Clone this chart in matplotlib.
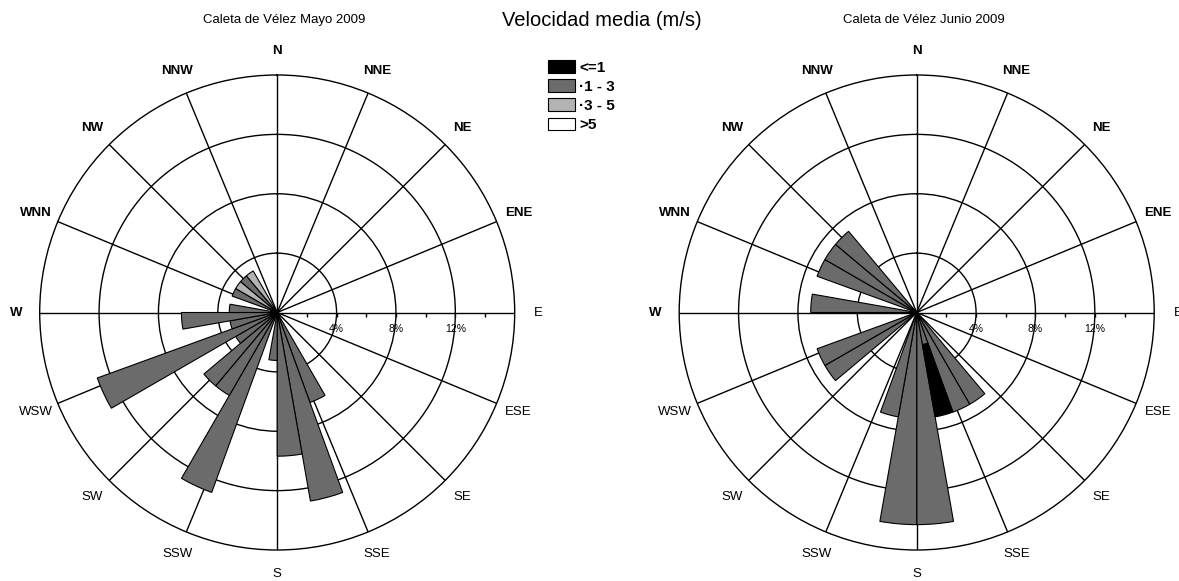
import numpy as np
import matplotlib
matplotlib.use('Agg')
import matplotlib.pyplot as plt
from matplotlib.lines import TICKDOWN
from matplotlib.patches import Patch

plt.rcParams['font.family'] = ['Liberation Sans', 'DejaVu Sans']

# 10-degree direction bins (start angle, compass degrees) and frequency (%) per speed class
mayo_bins = [150, 160, 170, 180, 200, 210, 220, 230, 240, 250, 260, 270, 290, 300, 310, 320]
mayo_1_3 = [6.45, 12.90, 9.68, 3.23, 12.90, 6.45, 6.45, 3.23, 12.90, 3.23, 6.45, 3.23, 3.23, 0, 3.23, 0]
mayo_3_5 = [0, 0, 0, 0, 0, 0, 0, 0, 0, 0, 0, 0, 0, 3.23, 0, 3.23]
mayo_le1 = [0] * len(mayo_bins)

junio_bins = [140, 150, 160, 170, 180, 190, 230, 240, 270, 290, 300, 310]
junio_1_3 = [7.14, 7.14, 2.20, 14.29, 14.29, 7.14, 7.14, 7.14, 7.14, 7.14, 7.14, 7.14]
junio_3_5 = [0] * len(junio_bins)
junio_le1 = [0, 0, 4.94, 0, 0, 0, 0, 0, 0, 0, 0, 0]

directions = ['N', 'NNE', 'NE', 'ENE', 'E', 'ESE', 'SE', 'SSE',
              'S', 'SSW', 'SW', 'WSW', 'W', 'WNN', 'NW', 'NNW']
bold_dirs = {'N', 'NNE', 'NE', 'ENE', 'W', 'WNN', 'NW', 'NNW'}
ring_vals = [4, 8, 12]

classes = [('<=1', '#000000'), ('\u00b71 - 3', '#6b6b6b'), ('\u00b73 - 5', '#b3b3b3'), ('>5', '#ffffff')]

W, H = 1179, 581
fig = plt.figure(figsize=(W / 100, H / 100), dpi=100)
R = 237.5


def rose(cx, cy, title, bins, layers):
    ax = fig.add_axes([(cx - R) / W, (H - cy - R) / H, 2 * R / W, 2 * R / H], projection='polar')
    ax.set_theta_zero_location('N')
    ax.set_theta_direction(-1)
    ax.set_ylim(0, 16)
    ax.set_axisbelow(True)
    ax.set_thetagrids(np.arange(0, 360, 22.5), labels=[])
    ax.set_rgrids(ring_vals, labels=[])
    ax.grid(True, color='black', linewidth=1.0)
    ax.spines['polar'].set_color('black')
    ax.spines['polar'].set_linewidth(1.0)
    ax.tick_params(length=0)

    theta = np.deg2rad(bins)
    width = np.deg2rad(10)
    bottom = np.zeros(len(bins))
    for vals, color in layers:
        vals = np.asarray(vals, dtype=float)
        mask = vals > 0
        ax.bar(theta[mask], vals[mask], width=width, bottom=bottom[mask], align='edge',
               color=color, edgecolor='black', linewidth=0.8, zorder=3)
        bottom += vals

    # tick marks along the east axis
    ax.plot([np.pi / 2] * 7, np.arange(2, 16, 2), linestyle='none', marker=TICKDOWN,
            markersize=3, color='black', markeredgewidth=1, zorder=4, clip_on=False)
    for v in ring_vals:
        ax.annotate(f'{v}%', xy=(np.pi / 2, v), xytext=(0, -12), textcoords='offset points',
                    ha='center', va='center', fontsize=7.5, zorder=5)

    for i, d in enumerate(directions):
        ax.text(np.deg2rad(i * 22.5), 17.6, d, ha='center', va='center', fontsize=9.5,
                fontweight='bold' if d in bold_dirs else 'normal')

    fig.text(cx / W + 0.006, 1 - 20 / H, title, ha='center', va='center', fontsize=9.5)
    return ax


rose(277.2, 312.5, 'Caleta de V\u00e9lez Mayo 2009', mayo_bins,
     [(mayo_1_3, classes[1][1]), (mayo_3_5, classes[2][1]), (mayo_le1, classes[0][1])])
rose(916.7, 312.5, 'Caleta de V\u00e9lez Junio 2009', junio_bins,
     [(junio_1_3, classes[1][1]), (junio_3_5, classes[2][1]), (junio_le1, classes[0][1])])

fig.text(602 / W, 1 - 21 / H, 'Velocidad media (m/s)', ha='center', va='center', fontsize=14.5)

handles = [Patch(facecolor=c, edgecolor='black', linewidth=0.8) for _, c in classes]
fig.legend(handles, [l for l, _ in classes], loc='upper left', bbox_to_anchor=(548 / W, 1 - 60 / H),
           frameon=False, handlelength=1.75, handleheight=0.9, handletextpad=0.3, labelspacing=0.3,
           borderpad=0, borderaxespad=0, prop={'weight': 'bold', 'size': 11})

fig.savefig('out.png', dpi=100, facecolor='white')
